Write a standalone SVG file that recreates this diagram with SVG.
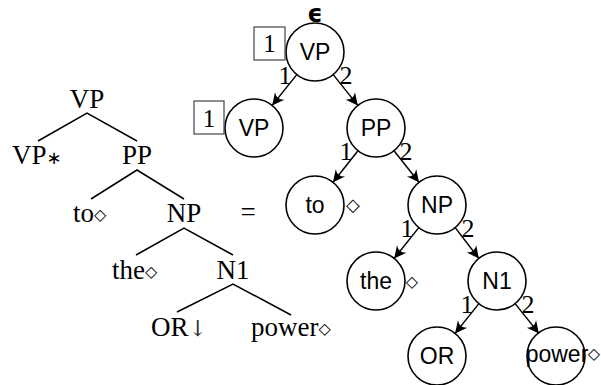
<svg xmlns="http://www.w3.org/2000/svg" width="601" height="385" viewBox="0 0 601 385">
<style>
.serif{font-family:"Liberation Serif","DejaVu Serif",serif;fill:#000}
.lt{font-size:27px}
.sans{font-family:"Liberation Sans",Arial,sans-serif;font-size:23px;text-anchor:middle;fill:#000}
.lbl{font-family:"Liberation Serif",serif;font-size:26px;text-anchor:middle;fill:#000}
.dia{font-family:"DejaVu Sans",sans-serif;fill:#000}
.node circle{fill:#fff;stroke:#000;stroke-width:1.6}
.edge{stroke:#000;stroke-width:1.5;fill:none}
.tl{stroke:#000;stroke-width:1.5;fill:none}
.box{fill:none;stroke:#444;stroke-width:1.2}
.mid{text-anchor:middle}
</style>
<defs>
<marker id="ah" markerUnits="userSpaceOnUse" markerWidth="16" markerHeight="16" viewBox="-14 -8 16 16" refX="0" refY="0" orient="auto">
<path d="M0,0 L-12,-6 Q-7,0 -12,6 Z" fill="#000"/>
</marker>
</defs>

<!-- Left derived tree -->
<g id="left-tree">
<g id="lt-lines" class="tl">
<path d="M38,141 L87,113 L137,141"/>
<path d="M91,199 L137,170 L184,199"/>
<path d="M136,255 L184,228 L233,255"/>
<path d="M177,312 L233,284 L291,315"/>
</g>
<text class="serif lt mid" x="87" y="108">VP</text>
<text class="serif lt" x="12" y="164">VP<tspan font-family="DejaVu Sans" font-size="18">∗</tspan></text>
<text class="serif lt mid" x="137" y="164">PP</text>
<text class="serif lt" x="73" y="222">to<tspan class="dia" font-size="16" dy="-2">◇</tspan></text>
<text class="serif lt mid" x="184" y="222">NP</text>
<text class="serif lt" x="112" y="279">the<tspan class="dia" font-size="16" dy="-2">◇</tspan></text>
<text class="serif lt mid" x="233" y="279">N1</text>
<text class="serif lt" x="151" y="336">OR<tspan font-family="DejaVu Serif" font-size="22" fill="#333">↓</tspan></text>
<text class="serif lt" x="251" y="336">power<tspan class="dia" font-size="16" dy="-2">◇</tspan></text>
</g>
<text id="equals" class="serif lt mid" x="248" y="221">=</text>

<!-- Right tree connectors -->
<g id="connectors">
<g class="edge" marker-end="url(#ah)">
<line x1="296.8" y1="74.6" x2="272.2" y2="105.4"/>
<line x1="333.2" y1="74.6" x2="357.8" y2="105.4"/>
<line x1="358" y1="150.7" x2="333" y2="182.3"/>
<line x1="394" y1="150.7" x2="419" y2="182.3"/>
<line x1="418.8" y1="227.6" x2="394.2" y2="258.4"/>
<line x1="455.2" y1="227.6" x2="478.8" y2="258.4"/>
<line x1="478.9" y1="303.6" x2="455.1" y2="333.4"/>
<line x1="515.1" y1="303.6" x2="538.9" y2="333.4"/>
</g>
<text class="lbl" x="285" y="84">1</text>
<text class="lbl" x="346" y="84">2</text>
<text class="lbl" x="346" y="160">1</text>
<text class="lbl" x="406" y="160">2</text>
<text class="lbl" x="407" y="237">1</text>
<text class="lbl" x="468" y="237">2</text>
<text class="lbl" x="467" y="313">1</text>
<text class="lbl" x="528" y="313">2</text>
</g>

<!-- Right tree nodes -->
<g id="n-root" class="node">
<circle cx="315" cy="52" r="29"/>
<text class="sans" x="315" y="60">VP</text>
<text class="mid" font-family="DejaVu Sans" font-weight="bold" font-size="24" x="315" y="22">ϵ</text>
<rect class="box" x="254" y="27" width="31" height="33"/>
<text class="serif mid" font-size="25" x="269.5" y="52">1</text>
</g>
<g id="n-vp" class="node">
<circle cx="254" cy="128" r="29"/>
<text class="sans" x="254" y="136">VP</text>
<rect class="box" x="194" y="101" width="30" height="33"/>
<text class="serif mid" font-size="25" x="209" y="127">1</text>
</g>
<g id="n-pp" class="node">
<circle cx="376" cy="128" r="29"/>
<text class="sans" x="376" y="136">PP</text>
</g>
<g id="n-to" class="node">
<circle cx="315" cy="205" r="29"/>
<text class="sans" x="315" y="213">to</text>
<text class="dia" font-size="18" x="353" y="211" text-anchor="middle">◇</text>
</g>
<g id="n-np" class="node">
<circle cx="437" cy="205" r="29"/>
<text class="sans" x="437" y="213">NP</text>
</g>
<g id="n-the" class="node">
<circle cx="376" cy="281" r="29"/>
<text class="sans" x="376" y="289">the</text>
<text class="dia" font-size="16" x="412" y="287" text-anchor="middle">◇</text>
</g>
<g id="n-n1" class="node">
<circle cx="497" cy="281" r="29"/>
<text class="sans" x="497" y="289">N1</text>
</g>
<g id="n-or" class="node">
<circle cx="437" cy="356" r="29"/>
<text class="sans" x="437" y="364">OR</text>
</g>
<g id="n-power" class="node">
<circle cx="556" cy="356" r="29"/>
<text class="sans" x="557" y="362">power</text>
<text class="dia" font-size="16" x="594" y="359" text-anchor="middle">◇</text>
</g>
</svg>
